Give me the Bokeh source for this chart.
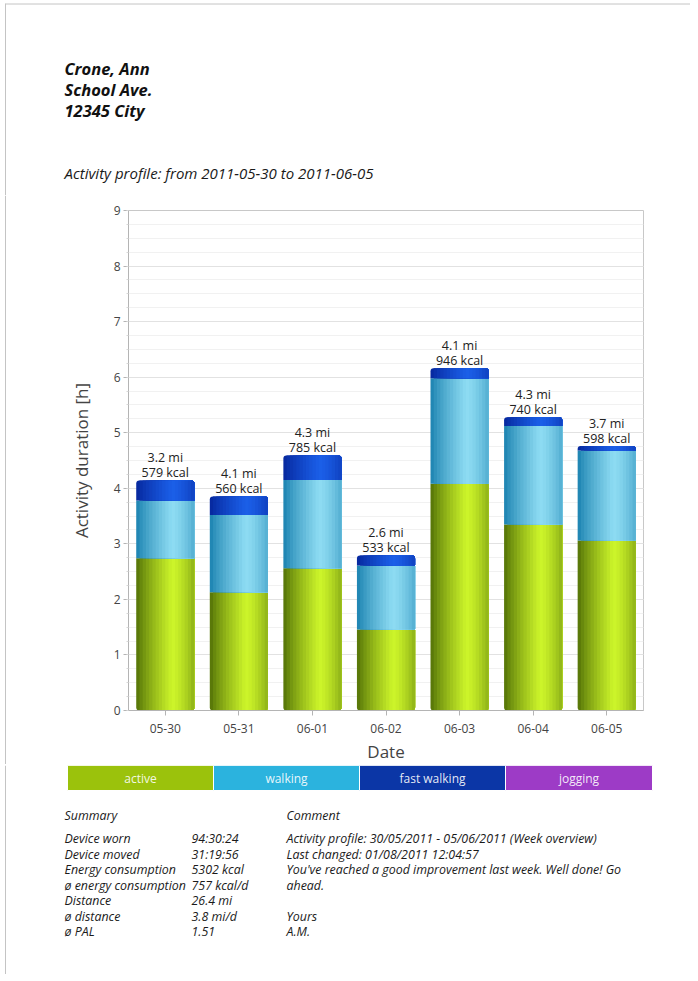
import numpy as np
from bokeh.plotting import figure
from bokeh.models import ColumnDataSource, FactorRange, Range1d, SingleIntervalTicker
from bokeh.layouts import column, row
from bokeh.transform import dodge
from bokeh.core.properties import value
from bokeh.embed import file_html
from bokeh.resources import INLINE

# ---------------- data ----------------
dates = ["05-30", "05-31", "06-01", "06-02", "06-03", "06-04", "06-05"]
active = [2.74, 2.13, 2.56, 1.46, 4.08, 3.35, 3.06]
walking = [1.04, 1.39, 1.59, 1.15, 1.90, 1.77, 1.62]
fast_walking = [0.36, 0.33, 0.44, 0.18, 0.18, 0.16, 0.08]
jogging = [0.0, 0.0, 0.0, 0.0, 0.0, 0.0, 0.0]
distance_mi = ["3.2", "4.1", "4.3", "2.6", "4.1", "4.3", "3.7"]
energy_kcal = [579, 560, 785, 533, 946, 740, 598]

legend_labels = ["active", "walking", "fast walking", "jogging"]
header_lines = ["Crone, Ann", "School Ave.", "12345 City"]
subtitle = "Activity profile: from 2011-05-30 to 2011-06-05"
summary_labels = ["Device worn", "Device moved", "Energy consumption",
                  "ø energy consumption", "Distance", "ø distance", "ø PAL"]
summary_values = ["94:30:24", "31:19:56", "5302 kcal", "757 kcal/d",
                  "26.4 mi", "3.8 mi/d", "1.51"]
comment_lines = ["Activity profile: 30/05/2011 - 05/06/2011 (Week overview)",
                 "Last changed: 01/08/2011 12:04:57",
                 "You've reached a good improvement last week. Well done! Go",
                 "ahead.", "", "Yours", "A.M."]

FONT = "Open Sans"
W = 690

# colours: (dark edge, highlight)
series_cols = {
    "active": ("#4f6e06", "#cdf52a"),
    "walking": ("#177fae", "#8edcf3"),
    "fast": ("#05259a", "#1b5fe8"),
    "jogging": ("#6a1a90", "#c070e8"),
}
legend_cols = ["#9bc20c", "#2bb3de", "#0b36a6", "#9d3bc6"]
BORDER = "#c4c4c4"


def hex2rgb(h):
    h = h.lstrip("#")
    return tuple(int(h[i:i + 2], 16) for i in (0, 2, 4))


def mix(c1, c2, t):
    a, b = hex2rgb(c1), hex2rgb(c2)
    return "#%02x%02x%02x" % tuple(int(round(a[i] + (b[i] - a[i]) * t)) for i in range(3))


def profile(t):
    if t < 0.62:
        return (t / 0.62) ** 0.8
    return 1 - 0.5 * ((t - 0.62) / 0.38) ** 1.4


def blank(width, height):
    f = figure(width=width, height=height, x_range=Range1d(0, width), y_range=Range1d(height, 0),
               x_axis_type=None, y_axis_type=None, toolbar_location=None,
               output_backend="svg", min_border=0, outline_line_color=None,
               frame_align=False)
    f.grid.visible = False
    return f


# ---------------- header ----------------
HH = 195
hdr = blank(W, HH)
hdr.segment(x0=[5, 5], y0=[3.5, 3], x1=[W, 5], y1=[3.5, HH], line_color=BORDER, line_width=1)
hdr.text(x=[64] * 3, y=[68, 89, 110], text=header_lines, text_font=value(FONT),
         text_font_size="16.5px", text_font_style="bold italic", text_color="#111111",
         text_baseline="alphabetic")
hdr.text(x=[64], y=[172], text=[subtitle], text_font=value(FONT),
         text_font_size="15px", text_font_style="italic", text_color="#1a1a1a",
         text_baseline="alphabetic")

# ---------------- chart ----------------
CH = 569
SW = 6
strip = blank(SW, CH)
strip.segment(x0=[5], y0=[0], x1=[5], y1=[CH], line_color=BORDER, line_width=1)

p = figure(x_range=FactorRange(*dates), y_range=Range1d(0, 9),
           frame_width=515, frame_height=500,
           min_border_left=128 - SW, min_border_right=47, min_border_top=15, min_border_bottom=54,
           toolbar_location=None, output_backend="svg", frame_align=False,
           outline_line_color="#c8c8c8", background_fill_color="white")

a = np.array(active)
wk = np.array(walking)
fw = np.array(fast_walking)
jg = np.array(jogging)
b1 = a
b2 = a + wk
b3 = a + wk + fw
b4 = b3 + jg
src = ColumnDataSource(dict(
    cat=dates,
    a0=np.zeros(len(dates)), a1=b1,
    w0=b1, w1=b2,
    f0=b2, f1=b3,
    j0=b3, j1=b4,
    total=b4,
    mi=[d + " mi" for d in distance_mi],
    kcal=["%d kcal" % k for k in energy_kcal],
))

bw = 0.79
N = 18
R = 3
# (key, bottom col, top col, round top?, round bottom?)
segs = [("active", "a0", "a1", False, True), ("walking", "w0", "w1", False, False),
        ("fast", "f0", "f1", True, False)]
for key, bot, top, rtop, rbot in segs:
    dark, light = series_cols[key]
    for k in range(N):
        t = (k + 0.5) / N
        col = mix(dark, light, profile(t))
        off = k * bw / (2 * N)
        width = bw * (N - k) / N
        first = (k == 0)
        br = (R if (rtop and first) else 0, R if rtop else 0,
              R if rbot else 0, R if (rbot and first) else 0)
        p.vbar(x=dodge("cat", off, range=p.x_range), bottom=bot, top=top, width=width,
               source=src, fill_color=col, line_color=None, border_radius=br)

p.text(x="cat", y="total", text="kcal", source=src, y_offset=-8,
       text_align="center", text_baseline="alphabetic", text_font=value(FONT),
       text_font_size="12.5px", text_color="#222222")
p.text(x="cat", y="total", text="mi", source=src, y_offset=-23,
       text_align="center", text_baseline="alphabetic", text_font=value(FONT),
       text_font_size="12.5px", text_color="#222222")

p.yaxis.ticker = SingleIntervalTicker(interval=1, num_minor_ticks=4)
p.ygrid.grid_line_color = "#e2e2e2"
p.ygrid.minor_grid_line_color = "#f1f1f1"
p.xgrid.grid_line_color = None

for ax in (p.xaxis, p.yaxis):
    ax.axis_line_color = "#b4b4b4"
    ax.major_tick_line_color = "#b4b4b4"
    ax.major_tick_out = 5
    ax.major_tick_in = 0
    ax.major_label_text_font = FONT
    ax.major_label_text_font_size = "12px"
    ax.major_label_text_color = "#444444"
    ax.axis_label_text_font = FONT
    ax.axis_label_text_font_size = "17px"
    ax.axis_label_text_font_style = "normal"
    ax.axis_label_text_color = "#444444"
p.yaxis.minor_tick_out = 2
p.yaxis.minor_tick_in = 0
p.yaxis.minor_tick_line_color = "#d8d8d8"
p.xaxis.major_label_standoff = 8
p.yaxis.major_label_standoff = 3
p.xaxis.axis_label = "Date"
p.yaxis.axis_label = "Activity duration [h]"
p.xaxis.axis_label_standoff = 4
p.yaxis.axis_label_standoff = 18

# ---------------- legend + summary ----------------
FH = 209
ft = blank(W, FH)
ft.segment(x0=[5], y0=[0], x1=[5], y1=[FH], line_color=BORDER, line_width=1)
lx = [67, 213, 359, 505, 652]
ft.quad(left=lx[:-1], right=lx[1:], top=[0] * 4, bottom=[25] * 4,
        fill_color=legend_cols, line_color="white", line_width=1)
ft.text(x=[(lx[i] + lx[i + 1]) / 2 for i in range(4)], y=[13] * 4, text=legend_labels,
        text_align="center", text_baseline="middle", text_font=value(FONT),
        text_font_size="12px", text_color="white", text_alpha=0.9)

FS = "12.4px"
ft.text(x=[64, 286], y=[50, 50], text=["Summary", "Comment"], text_font=value(FONT),
        text_font_size=FS, text_font_style="italic", text_color="#1a1a1a",
        text_baseline="alphabetic")
rows_y = [73 + 15.5 * i for i in range(len(summary_labels))]
ft.text(x=[64] * len(summary_labels), y=rows_y, text=summary_labels, text_font=value(FONT),
        text_font_size=FS, text_font_style="italic", text_color="#1a1a1a",
        text_baseline="alphabetic")
ft.text(x=[191] * len(summary_values), y=rows_y, text=summary_values, text_font=value(FONT),
        text_font_size=FS, text_font_style="italic", text_color="#1a1a1a",
        text_baseline="alphabetic")
ft.text(x=[286] * len(comment_lines), y=rows_y, text=comment_lines, text_font=value(FONT),
        text_font_size=FS, text_font_style="italic", text_color="#1a1a1a",
        text_baseline="alphabetic")

layout = column(hdr, row(strip, p, spacing=0), ft, spacing=0)
open("out.html", "w").write(file_html(layout, INLINE))
